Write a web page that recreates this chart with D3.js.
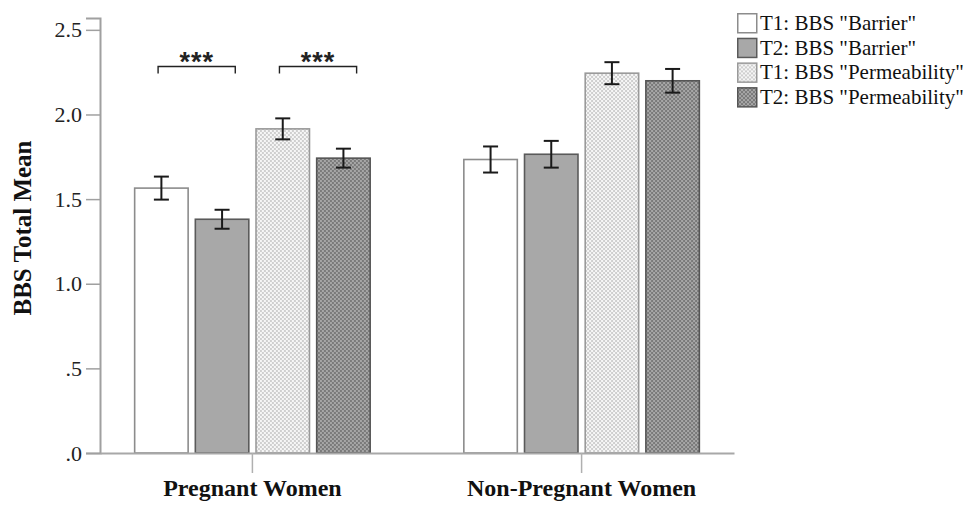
<!DOCTYPE html>
<html>
<head>
<meta charset="utf-8">
<script src="https://cdn.jsdelivr.net/npm/d3@7"></script>
<style>
  html, body { margin: 0; padding: 0; background: #fff; }
  svg { display: block; }
</style>
</head>
<body>
<svg id="chart" width="968" height="505"></svg>
<script>
const categories = ["Pregnant Women", "Non-Pregnant Women"];
const seriesNames = ['T1: BBS "Barrier"', 'T2: BBS "Barrier"', 'T1: BBS "Permeability"', 'T2: BBS "Permeability"'];
const meansPregnant = [1.565, 1.381, 1.915, 1.742];
const meansNonPregnant = [1.734, 1.765, 2.244, 2.199];
const errPregnant = [0.068, 0.056, 0.062, 0.056];
const errNonPregnant = [0.077, 0.079, 0.065, 0.070];
const yTicks = [0, 0.5, 1.0, 1.5, 2.0, 2.5];
const significance = [
  { category: "Pregnant Women", from: 0, to: 1, label: "***" },
  { category: "Pregnant Women", from: 2, to: 3, label: "***" }
];

const data = [
  { cat: categories[0], means: meansPregnant, errs: errPregnant },
  { cat: categories[1], means: meansNonPregnant, errs: errNonPregnant }
];

const svg = d3.select("#chart");
const defs = svg.append("defs");

function checker(id, bg, fg) {
  const p = defs.append("pattern").attr("id", id)
    .attr("patternUnits", "userSpaceOnUse").attr("width", 4).attr("height", 4);
  p.append("rect").attr("width", 4).attr("height", 4).attr("fill", bg);
  p.append("rect").attr("x", 0).attr("y", 0).attr("width", 2).attr("height", 2).attr("fill", fg);
  p.append("rect").attr("x", 2).attr("y", 2).attr("width", 2).attr("height", 2).attr("fill", fg);
}
checker("pat1", "#f6f6f6", "#cfcfcf");
checker("pat2", "#a6a6a6", "#7a7a7a");

const fills = ["#ffffff", "#a8a8a8", "url(#pat1)", "url(#pat2)"];
const strokes = ["#8c8c8c", "#5a5a5a", "#9a9a9a", "#555555"];

const x0 = d3.scaleBand().domain(categories).range([100, 734]).paddingInner(0.28).paddingOuter(0.103);
const x1 = d3.scaleBand().domain(d3.range(seriesNames.length)).range([0, x0.bandwidth()]).paddingInner(0.094);
const y = d3.scaleLinear().domain([0, 2.57]).range([453, 18]);

const serif = "'Liberation Serif', 'Times New Roman', serif";

// Y axis
const yAxis = svg.append("g").attr("transform", "translate(100,0)")
  .call(d3.axisLeft(y).tickValues(yTicks).tickSize(14).tickPadding(4)
    .tickFormat(v => d3.format(".1f")(v).replace(/^0/, "")));
yAxis.select(".domain").attr("stroke", "#a0a0a0").attr("stroke-width", 2);
yAxis.selectAll(".tick line").attr("stroke", "#a0a0a0").attr("stroke-width", 1.5);
yAxis.selectAll(".tick text").attr("font-family", serif).attr("font-size", 22).attr("fill", "#222");

// Bars
const groups = svg.append("g").selectAll("g").data(data).join("g")
  .attr("transform", d => `translate(${x0(d.cat)},0)`);

groups.selectAll("rect").data(d => d.means.map((m, i) => ({ i, m })))
  .join("rect")
  .attr("x", d => x1(d.i) + 0.75)
  .attr("width", x1.bandwidth() - 1.5)
  .attr("y", d => y(d.m))
  .attr("height", d => y(0) - y(d.m))
  .attr("fill", d => fills[d.i])
  .attr("stroke", d => strokes[d.i])
  .attr("stroke-width", 1.6);

// Error bars
const eb = groups.selectAll("g.err").data(d => d.means.map((m, i) => ({ i, m, e: d.errs[i] })))
  .join("g").attr("class", "err")
  .attr("transform", d => `translate(${x1(d.i) + x1.bandwidth() / 2},0)`);
eb.append("line").attr("y1", d => y(d.m + d.e)).attr("y2", d => y(d.m - d.e))
  .attr("stroke", "#1a1a1a").attr("stroke-width", 2);
eb.append("line").attr("x1", -7.5).attr("x2", 7.5).attr("y1", d => y(d.m + d.e)).attr("y2", d => y(d.m + d.e))
  .attr("stroke", "#1a1a1a").attr("stroke-width", 2);
eb.append("line").attr("x1", -7.5).attr("x2", 7.5).attr("y1", d => y(d.m - d.e)).attr("y2", d => y(d.m - d.e))
  .attr("stroke", "#1a1a1a").attr("stroke-width", 2);

// X axis
const xAxis = svg.append("g").attr("transform", `translate(0,${y(0)})`)
  .call(d3.axisBottom(x0).tickSize(20).tickPadding(10).tickSizeOuter(0));
xAxis.select(".domain").attr("stroke", "#a8a8a8").attr("stroke-width", 2);
xAxis.selectAll(".tick line").attr("stroke", "#b0b0b0").attr("stroke-width", 1.5);
xAxis.selectAll(".tick text").attr("font-family", serif).attr("font-size", 24)
  .attr("font-weight", "bold").attr("fill", "#111").attr("y", 43).attr("dy", 0);

// Y title
svg.append("text")
  .attr("transform", "translate(31,228) rotate(-90)")
  .attr("text-anchor", "middle")
  .attr("font-family", serif).attr("font-size", 25).attr("font-weight", "bold").attr("fill", "#111")
  .text("BBS Total Mean");

// Significance brackets
significance.forEach(s => {
  const gx = x0(s.category);
  const xa = gx + x1(s.from) + x1.bandwidth() * 0.44;
  const xb = gx + x1(s.to) + x1.bandwidth() * 0.74;
  const yTop = 66.5, yLeg = 73.5;
  svg.append("path")
    .attr("d", `M${xa},${yLeg}V${yTop}H${xb}V${yLeg}`)
    .attr("fill", "none").attr("stroke", "#222").attr("stroke-width", 1.4);
  svg.append("text")
    .attr("x", (xa + xb) / 2).attr("y", 71)
    .attr("text-anchor", "middle")
    .attr("font-family", "'Liberation Sans', Arial, sans-serif")
    .attr("font-size", 27).attr("font-weight", "bold").attr("letter-spacing", 1).attr("fill", "#222")
    .text(s.label);
});

// Legend
const legend = svg.append("g").attr("transform", "translate(737,13)");
const li = legend.selectAll("g").data(seriesNames).join("g")
  .attr("transform", (d, i) => `translate(0,${i * 24.7})`);
li.append("rect").attr("x", 0.75).attr("y", 0.75).attr("width", 19).attr("height", 19)
  .attr("fill", (d, i) => fills[i]).attr("stroke", (d, i) => strokes[i]).attr("stroke-width", 1.5);
li.append("text").attr("x", 23).attr("y", 17)
  .attr("font-family", serif).attr("font-size", 21).attr("fill", "#111")
  .text(d => d);
</script>
</body>
</html>
